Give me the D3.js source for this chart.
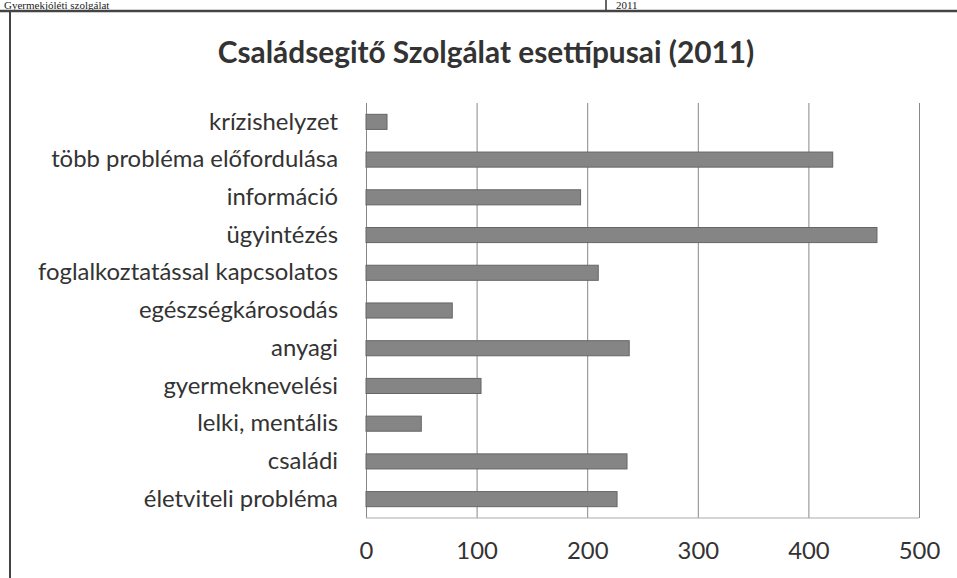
<!DOCTYPE html>
<html><head><meta charset="utf-8">
<script src="https://cdn.jsdelivr.net/npm/d3@7"></script>
<style>body{margin:0;background:#fff}svg{display:block}</style>
</head><body>
<script>
const categories = ["krízishelyzet","több probléma előfordulása","információ","ügyintézés","foglalkoztatással kapcsolatos","egészségkárosodás","anyagi","gyermeknevelési","lelki, mentális","családi","életviteli probléma"];
const values = [19,422,194,462,210,78,238,104,50,236,227];
const xTicks = [0,100,200,300,400,500];
const titleText = "Családsegitő Szolgálat esettípusai (2011)";

const W=957,H=578;
const svg=d3.select("body").append("svg").attr("width",W).attr("height",H);
svg.append("rect").attr("width",W).attr("height",H).attr("fill","#fff");

// page fragments from the scanned document
svg.append("text").attr("x",4).attr("y",9).attr("font-family","Liberation Serif").attr("font-size",11).attr("fill","#222").text("Gyermekjóléti szolgálat");
svg.append("text").attr("x",616).attr("y",9).attr("font-family","Liberation Serif").attr("font-size",11).attr("fill","#222").text("2011");
svg.append("line").attr("x1",606).attr("x2",606).attr("y1",0).attr("y2",11).attr("stroke","#333").attr("stroke-width",1.5);
svg.append("line").attr("x1",0).attr("x2",W).attr("y1",11).attr("y2",11).attr("stroke","#444").attr("stroke-width",2.5);
svg.append("line").attr("x1",10).attr("x2",10).attr("y1",11).attr("y2",H).attr("stroke","#444").attr("stroke-width",2);

const x=d3.scaleLinear().domain([0,500]).range([366,919]);
const y=d3.scaleBand().domain(categories).range([103,518]).paddingInner(0.6).paddingOuter(0.3);

const title=svg.append("text").attr("x",486).attr("y",63).attr("text-anchor","middle")
  .attr("font-family","Lato").attr("font-weight","bold").attr("font-size",25).attr("fill","#333").text(titleText);
const tw=title.node().getComputedTextLength();
if(tw>0) title.attr("font-size",25*537/tw);

// gridlines
const grid=svg.append("g").attr("transform","translate(0,103)")
  .call(d3.axisBottom(x).tickValues(xTicks).tickSize(415).tickFormat(""));
grid.select(".domain").remove();
grid.selectAll("line").attr("stroke","#888").attr("stroke-width",1);

svg.append("line").attr("x1",366).attr("x2",919).attr("y1",518).attr("y2",518).attr("stroke","#aaa");

svg.append("g").selectAll("rect").data(values).join("rect")
  .attr("x",x(0)).attr("y",(d,i)=>y(categories[i]))
  .attr("width",d=>x(d)-x(0)).attr("height",y.bandwidth())
  .attr("fill","#858585").attr("stroke","#666").attr("stroke-width",1);

// y labels
const ya=svg.append("g").attr("transform","translate(338,0)").call(d3.axisLeft(y).tickSize(0).tickPadding(0));
ya.select(".domain").remove();
ya.selectAll("text").attr("font-family","Lato").attr("font-size",20).attr("fill","#333");
// scale label font to match reference width of longest label (~300px)
let maxw=0; ya.selectAll("text").each(function(){maxw=Math.max(maxw,this.getComputedTextLength());});
const lfs = maxw>0 ? 20*300/maxw : 20;
ya.selectAll("text").attr("font-size",lfs);

// x tick labels
const xa=svg.append("g").attr("transform","translate(0,542)").call(d3.axisBottom(x).tickValues(xTicks).tickSize(0).tickPadding(0));
xa.select(".domain").remove();
xa.selectAll("text").attr("font-family","Lato").attr("font-size",lfs).attr("fill","#333").attr("dy","0.71em");
</script>
</body></html>
